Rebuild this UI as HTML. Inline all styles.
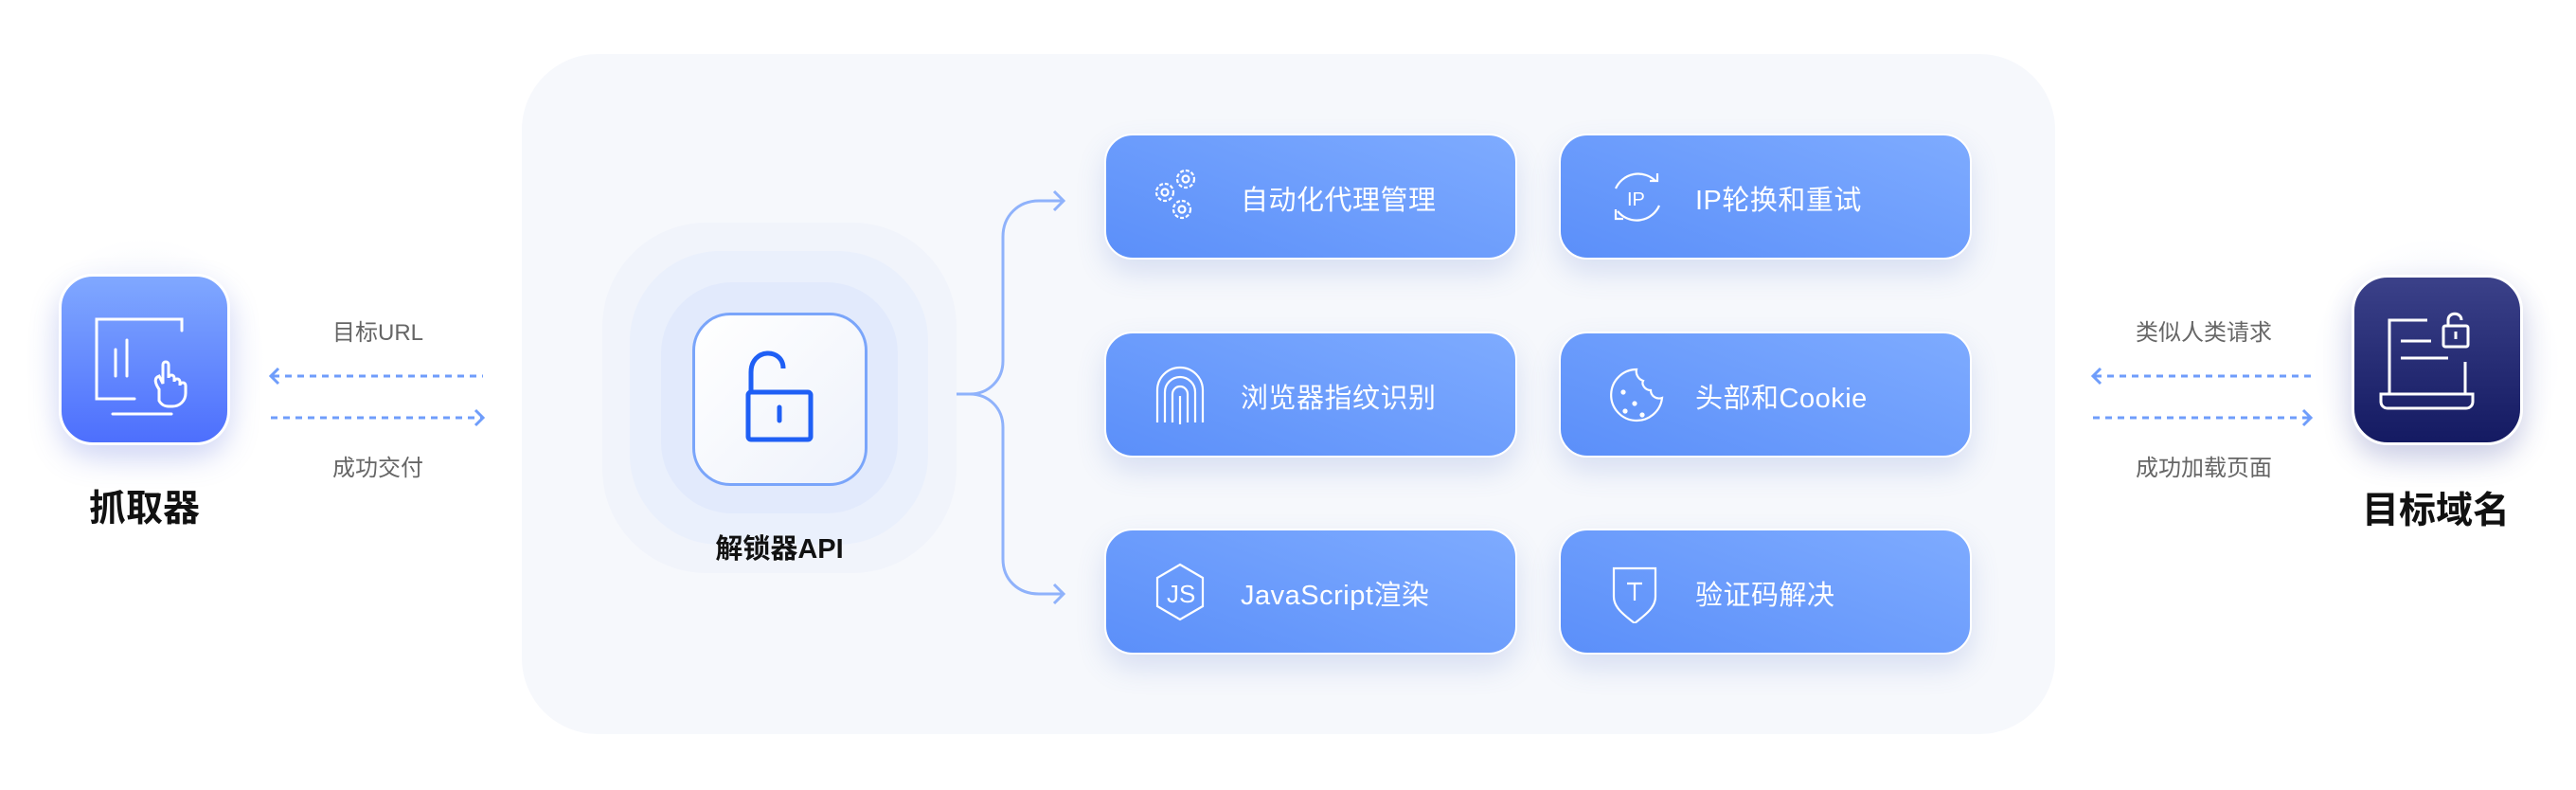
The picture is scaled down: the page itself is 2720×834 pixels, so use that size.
<!DOCTYPE html>
<html><head><meta charset="utf-8"><style>
*{margin:0;padding:0;box-sizing:border-box}
body{width:2720px;height:834px;background:#fff;position:relative;overflow:hidden;font-family:"Liberation Sans","Noto Sans CJK SC",sans-serif}
.a{position:absolute}
.panel{left:551px;top:57px;width:1619px;height:718px;background:#f6f8fc;border-radius:80px}
.card{position:absolute;width:436px;height:133px;border-radius:30px;border:2px solid #fff;background:linear-gradient(200deg,#7eabff 0%,#5b8ff9 100%);box-shadow:0 14px 30px rgba(80,110,200,.18);color:#fff;font-size:29px}
.card svg{position:absolute;left:50px;top:34px}
.card span{position:absolute;left:142px;top:45px;letter-spacing:.5px}
.lbl{position:absolute;color:#666;font-size:24px;text-align:center;width:240px}
</style></head><body>
<div class="a panel"></div>

<!-- crawler -->
<div class="a" style="left:24px;top:250px;width:258px;height:260px;border-radius:100px;background:radial-gradient(ellipse at center,rgba(200,210,245,.35),rgba(255,255,255,0) 70%)"></div>
<div class="a" style="left:62px;top:289px;width:181px;height:181px;border-radius:36px;border:3px solid #fff;background:linear-gradient(180deg,#80a8ff,#4d6ffd);box-shadow:0 14px 30px rgba(90,110,220,.25)"></div>
<svg class="a" style="left:62px;top:289px" width="181" height="181" viewBox="0 0 181 181" fill="none" stroke="#fff" stroke-width="3" stroke-linecap="round">
<path d="M130 60V48H40v84h40"/><path d="M60 80v28M72 70v38"/><path d="M57 148h62"/>
<path d="M106 122c-4-6-6-12 0-14l4 8V96c0-4 6-4 6 0v14c0-4 6-4 6 0v4c0-4 6-4 6 0v4c0-4 6-4 6 0v8c0 8-6 14-14 14h-4c-4 0-8-2-10-6z"/>
</svg>
<div class="a" style="left:62px;top:506px;width:181px;text-align:center;font-size:39px;font-weight:bold;color:#111">抓取器</div>

<!-- left arrows -->
<svg class="a" style="left:0;top:0" width="2720" height="834" fill="none">
<g stroke="#6f9dfb" stroke-width="3">
<path d="M288 397H510" stroke-dasharray="7 6"/><path d="M294 389l-8 8 8 8"/>
<path d="M286 441H508" stroke-dasharray="7 6"/><path d="M502 433l8 8-8 8"/>
<path d="M2212 397H2440" stroke-dasharray="7 6"/><path d="M2218 389l-8 8 8 8"/>
<path d="M2210 441H2438" stroke-dasharray="7 6"/><path d="M2432 433l8 8-8 8"/>
</g>
<g stroke="#8fb2fb" stroke-width="3">
<path d="M980 416H1024c20 0 35-15 35-35V250c0-22 16-38 38-38h26"/>
<path d="M1024 416c20 0 35 15 35 35V590c0 22 16 37 38 37h26"/>
<path d="M1113 202l10 10-10 10M1113 617l10 10-10 10"/>
</g>
</svg>
<div class="lbl" style="left:279px;top:331px">目标URL</div>
<div class="lbl" style="left:279px;top:474px">成功交付</div>
<div class="lbl" style="left:2207px;top:331px">类似人类请求</div>
<div class="lbl" style="left:2207px;top:474px">成功加载页面</div>

<!-- unlocker -->
<div class="a" style="left:636px;top:235px;width:374px;height:370px;border-radius:110px;background:#f1f4fb"></div>
<div class="a" style="left:665px;top:265px;width:315px;height:310px;border-radius:95px;background:#eaf0fc"></div>
<div class="a" style="left:698px;top:298px;width:250px;height:244px;border-radius:75px;background:#e2eafc"></div>
<div class="a" style="left:731px;top:330px;width:185px;height:183px;border-radius:40px;border:3px solid #7aa5fa;background:linear-gradient(135deg,#fff,#eef2fb)"></div>
<svg class="a" style="left:731px;top:330px" width="185" height="183" fill="none" stroke="#1f5ff5" stroke-width="5" stroke-linejoin="round">
<rect x="59" y="84" width="66" height="50" rx="3"/><path d="M62 84V63c0-26 34-26 34-4"/><path d="M92 100v14" stroke-linecap="round"/>
</svg>
<div class="a" style="left:723px;top:556px;width:200px;text-align:center;font-size:29px;font-weight:bold;color:#111">解锁器API</div>

<!-- cards -->
<div class="card" style="left:1166px;top:141px"><svg width="64" height="64" viewBox="0 0 64 64" fill="none" stroke="#fff" stroke-width="2.2"><circle cx="12" cy="26" r="9" stroke-dasharray="4 2"/><circle cx="12" cy="26" r="3.5"/><circle cx="34" cy="12" r="9" stroke-dasharray="4 2"/><circle cx="34" cy="12" r="3.5"/><circle cx="30" cy="44" r="9" stroke-dasharray="4 2"/><circle cx="30" cy="44" r="3.5"/></svg><span>自动化代理管理</span></div>
<div class="card" style="left:1646px;top:141px"><svg width="64" height="64" viewBox="0 0 64 64" fill="none" stroke="#fff" stroke-width="2.2"><path d="M50 14A26 26 0 0 0 8 22M10 46A26 26 0 0 0 54 40"/><path d="M44 14h8v-8M8 44v10h8"/><text x="20" y="40" fill="#fff" stroke="none" font-size="20" font-family="Liberation Sans">IP</text></svg><span>IP轮换和重试</span></div>
<div class="card" style="left:1166px;top:350px"><svg width="64" height="64" viewBox="0 0 64 64" fill="none" stroke="#fff" stroke-width="2.2"><path d="M4 60V26a24 24 0 0 1 48 0v34"/><path d="M12 60V28a16 16 0 0 1 32 0v32"/><path d="M20 60V30a8 8 0 0 1 16 0v30"/><path d="M28 62V32"/></svg><span>浏览器指纹识别</span></div>
<div class="card" style="left:1646px;top:350px"><svg width="64" height="64" viewBox="0 0 64 64" fill="none" stroke="#fff" stroke-width="2.2"><path d="M30 4A27 27 0 1 0 57 34c-6 2-12-2-12-8-6 0-10-6-8-10-6-2-8-8-7-12z"/><circle cx="16" cy="28" r="1.5" fill="#fff"/><circle cx="28" cy="40" r="1.5" fill="#fff"/><circle cx="18" cy="48" r="1.5" fill="#fff"/><circle cx="36" cy="52" r="1.5" fill="#fff"/></svg><span>头部和Cookie</span></div>
<div class="card" style="left:1166px;top:558px"><svg width="64" height="64" viewBox="0 0 64 64" fill="none" stroke="#fff" stroke-width="2.2"><path d="M28 2L52 16V46L28 60 4 46V16z"/><text x="14" y="42" fill="#fff" stroke="none" font-size="26" font-family="Liberation Sans">JS</text></svg><span>JavaScript渲染</span></div>
<div class="card" style="left:1646px;top:558px"><svg width="64" height="64" viewBox="0 0 64 64" fill="none" stroke="#fff" stroke-width="2.2"><path d="M6 6h44v30c0 12-12 20-22 28C18 56 6 48 6 36z"/><path d="M20 22h16M28 22v18"/></svg><span>验证码解决</span></div>

<!-- target -->
<div class="a" style="left:2440px;top:250px;width:265px;height:265px;border-radius:100px;background:radial-gradient(ellipse at center,rgba(200,210,245,.35),rgba(255,255,255,0) 70%)"></div>
<div class="a" style="left:2483px;top:290px;width:181px;height:180px;border-radius:38px;border:3px solid #fff;background:linear-gradient(180deg,#3b4189,#141a62);box-shadow:0 14px 30px rgba(40,50,140,.22)"></div>
<svg class="a" style="left:2483px;top:290px" width="181" height="180" fill="none" stroke="#fff" stroke-width="3">
<path d="M80 48H40v78M38 126h90v8c0 4-3 7-7 7H38c-4 0-7-3-7-7v-8zM120 92v34"/>
<path d="M52 70h32M52 88h50"/>
<rect x="97" y="54" width="26" height="22" rx="2"/><path d="M102 54v-6c0-9 14-9 14 0"/><path d="M110 60v8"/>
</svg>
<div class="a" style="left:2472px;top:508px;width:200px;text-align:center;font-size:39px;font-weight:bold;color:#111">目标域名</div>
</body></html>
